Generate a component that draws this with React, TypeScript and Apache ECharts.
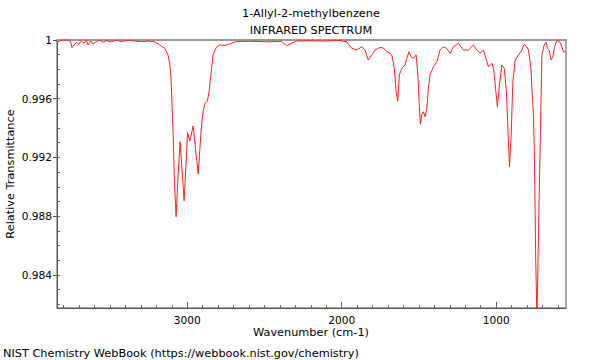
import React, { useEffect, useRef } from "react";
import * as echarts from "echarts";

const titleLines = ["1-Allyl-2-methylbenzene", "INFRARED SPECTRUM"];
const xAxisTitle = "Wavenumber (cm-1)";
const yAxisTitle = "Relative Transmittance";
const footer = "NIST Chemistry WebBook (https://webbook.nist.gov/chemistry)";

const xMajorTicks = [1000, 2000, 3000];
const xMinorTicks = [600, 700, 800, 900, 1000, 1100, 1200, 1300, 1400, 1500, 1600, 1700, 1800, 1900, 2000, 2100, 2200, 2300, 2400, 2500, 2600, 2700, 2800, 2900, 3000, 3100, 3200, 3300, 3400, 3500, 3600, 3700, 3800];
const yMajorTicks = [0.984, 0.988, 0.992, 0.996, 1.0];
const yMinorTicks = [0.982, 0.983, 0.984, 0.985, 0.986, 0.987, 0.988, 0.989, 0.99, 0.991, 0.992, 0.993, 0.994, 0.995, 0.996, 0.997, 0.998, 0.999];

const wavenumbers = [
  3840, 3826, 3804, 3772, 3754, 3746, 3733, 3717, 3703, 3685, 3668, 3653, 3642, 3625, 3610, 3588,
  3566, 3545, 3523, 3491, 3458, 3426, 3383, 3340, 3296, 3253, 3210, 3178, 3145, 3124, 3113, 3106,
  3102, 3091, 3082, 3072, 3059, 3046, 3030, 3020, 3009, 2998, 2983, 2962, 2929, 2909, 2897, 2886,
  2870, 2860, 2847, 2832, 2810, 2789, 2756, 2724, 2681, 2594, 2497, 2389, 2357, 2324, 2292, 2205,
  2108, 2011, 1968, 1935, 1903, 1870, 1849, 1828, 1806, 1784, 1752, 1730, 1708, 1687, 1676, 1659,
  1648, 1637, 1627, 1611, 1590, 1579, 1564, 1551, 1536, 1518, 1507, 1499, 1491, 1482, 1471, 1460,
  1449, 1439, 1428, 1406, 1384, 1363, 1342, 1320, 1298, 1277, 1244, 1212, 1180, 1147, 1125, 1104,
  1082, 1060, 1050, 1028, 1017, 1006, 992, 979, 963, 948, 935, 924, 914, 903, 892, 877,
  855, 833, 819, 801, 791, 775, 758, 752, 744, 736, 728, 719, 710, 704, 689, 676,
  668, 657, 645, 633, 622, 607, 590, 579, 564, 550,
];

const transmittance = [
  0.99984, 0.99993, 1.0, 1.0, 0.99988, 0.99948, 0.99966, 0.99984, 0.99971, 0.99993, 0.99978, 1.0, 0.99966, 0.99993, 0.99973, 0.99988,
  1.0, 0.99984, 0.99995, 0.99988, 1.0, 0.99988, 1.0, 0.99993, 0.99988, 0.99993, 0.99988, 0.99966, 0.99943, 0.99898, 0.9983, 0.99762,
  0.99673, 0.99353, 0.99012, 0.98796, 0.9908, 0.99307, 0.9906, 0.98905, 0.99128, 0.99368, 0.99312, 0.99414, 0.99087, 0.994, 0.99516, 0.99564,
  0.99584, 0.99632, 0.99762, 0.99905, 0.99952, 0.99966, 0.99963, 0.99973, 0.9999, 0.99991, 0.99988, 0.9999, 0.99961, 0.99978, 0.99993, 0.99995,
  0.99993, 0.99997, 0.99988, 0.99943, 0.99932, 0.99954, 0.99932, 0.99864, 0.99898, 0.99932, 0.99949, 0.99945, 0.9992, 0.99909, 0.99898, 0.99807,
  0.99648, 0.99584, 0.99762, 0.99807, 0.9983, 0.99875, 0.9992, 0.99886, 0.99875, 0.99898, 0.99762, 0.9958, 0.99426, 0.99489, 0.99511, 0.99477,
  0.99535, 0.99671, 0.99762, 0.99818, 0.99852, 0.99932, 0.99954, 0.99943, 0.99909, 0.99954, 0.99978, 0.99932, 0.99932, 0.99966, 0.99932, 0.99909,
  0.99932, 0.99852, 0.99818, 0.99841, 0.99807, 0.99693, 0.99545, 0.99693, 0.9983, 0.99807, 0.99671, 0.99398, 0.99137, 0.99353, 0.99716, 0.99864,
  0.99898, 0.99932, 0.99971, 0.99954, 0.99932, 0.99807, 0.99466, 0.99182, 0.98501, 0.981, 0.98569, 0.9908, 0.9958, 0.99898, 0.99966, 0.99986,
  0.99943, 0.99932, 0.99864, 0.99886, 0.99954, 0.99997, 0.99988, 0.99966, 0.9992, 0.99918,
];

const X_MIN = 548;
const X_MAX = 3843;
const Y_MIN = 0.98174;
const Y_MAX = 1.0;

const FONT = "DejaVu Sans";
const TEXT_SIZE = 11.3;
const TICK_SIZE = 10.6;

export default function App() {
  const ref = useRef<HTMLDivElement>(null);

  useEffect(() => {
    if (!ref.current) return;
    const chart = echarts.init(ref.current, undefined, { renderer: "svg" });
    const data = wavenumbers.map((w, i) => [w, transmittance[i]]);
    const axisColor = "#555";
    const textFont = `${TEXT_SIZE}px "${FONT}"`;

    chart.setOption({
      animation: false,
      grid: {
        left: 57,
        right: 34,
        top: 40,
        bottom: 52,
        show: true,
        borderColor: axisColor,
        borderWidth: 1,
        backgroundColor: "transparent",
      },
      xAxis: [
        {
          type: "value",
          inverse: true,
          min: X_MIN,
          max: X_MAX,
          position: "bottom",
          axisLine: { show: true, onZero: false, lineStyle: { color: axisColor, width: 1 } },
          axisTick: { show: true, inside: true, length: 6, customValues: xMajorTicks, lineStyle: { color: axisColor } },
          axisLabel: {
            show: true,
            customValues: xMajorTicks,
            color: "#000",
            fontSize: TICK_SIZE,
            fontFamily: FONT,
            margin: 6,
            formatter: (v: number) => String(Math.round(v)),
          },
          splitLine: { show: false },
        },
        {
          type: "value",
          inverse: true,
          min: X_MIN,
          max: X_MAX,
          position: "bottom",
          axisLine: { show: false, onZero: false },
          axisTick: { show: true, inside: true, length: 3, customValues: xMinorTicks, lineStyle: { color: "#666" } },
          axisLabel: { show: false },
          splitLine: { show: false },
        },
        {
          type: "value",
          inverse: true,
          min: X_MIN,
          max: X_MAX,
          position: "top",
          axisLine: { show: true, onZero: false, lineStyle: { color: "#999", width: 2 } },
          axisTick: { show: false },
          axisLabel: { show: false },
          splitLine: { show: false },
        },
      ],
      yAxis: [
        {
          type: "value",
          min: Y_MIN,
          max: Y_MAX,
          position: "left",
          axisLine: { show: true, onZero: false, lineStyle: { color: axisColor, width: 1 } },
          axisTick: { show: true, inside: false, length: 4, customValues: yMajorTicks, lineStyle: { color: axisColor } },
          axisLabel: {
            show: true,
            customValues: yMajorTicks,
            color: "#000",
            fontSize: TICK_SIZE,
            fontFamily: FONT,
            margin: 5,
            formatter: (v: number) => (Math.abs(v - 1) < 1e-9 ? "1" : v.toFixed(3)),
          },
          splitLine: { show: false },
        },
        {
          type: "value",
          min: Y_MIN,
          max: Y_MAX,
          position: "left",
          axisLine: { show: false, onZero: false },
          axisTick: { show: true, inside: true, length: 3, customValues: yMinorTicks, lineStyle: { color: "#666" } },
          axisLabel: { show: false },
          splitLine: { show: false },
        },
      ],
      series: [
        {
          type: "line",
          xAxisIndex: 0,
          yAxisIndex: 0,
          data,
          showSymbol: false,
          symbol: "none",
          clip: true,
          lineStyle: { color: "#ff2020", width: 1 },
          silent: true,
        },
      ],
      graphic: [
        {
          type: "text",
          x: 311,
          y: 13,
          style: { text: titleLines[0], fill: "#000", font: textFont, textAlign: "center", textVerticalAlign: "middle" },
        },
        {
          type: "text",
          x: 311,
          y: 30,
          style: { text: titleLines[1], fill: "#000", font: textFont, textAlign: "center", textVerticalAlign: "middle" },
        },
        {
          type: "text",
          x: 311,
          y: 332,
          style: { text: xAxisTitle, fill: "#000", font: textFont, textAlign: "center", textVerticalAlign: "middle" },
        },
        {
          type: "text",
          x: 10,
          y: 174,
          rotation: Math.PI / 2,
          style: { text: yAxisTitle, fill: "#000", font: textFont, textAlign: "center", textVerticalAlign: "middle" },
        },
        {
          type: "text",
          x: 3,
          y: 353,
          style: { text: footer, fill: "#000", font: textFont, textAlign: "left", textVerticalAlign: "middle" },
        },
      ],
    });

    return () => {
      chart.dispose();
    };
  }, []);

  return <div ref={ref} style={{ width: 600, height: 360, position: "absolute", left: 0, top: 0 }} />;
}
